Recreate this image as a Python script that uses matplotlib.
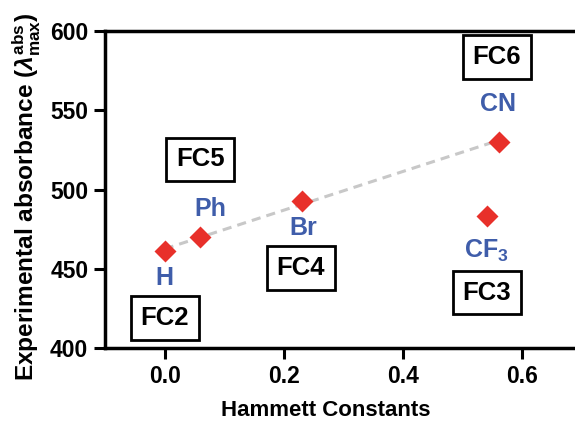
import numpy as np
import matplotlib
matplotlib.use("Agg")
import matplotlib.pyplot as plt

plt.rcParams["font.family"] = ["Liberation Sans", "DejaVu Sans"]
plt.rcParams["font.weight"] = "bold"
plt.rcParams["mathtext.fontset"] = "custom"
plt.rcParams["mathtext.rm"] = "Liberation Sans:bold"
plt.rcParams["mathtext.it"] = "Liberation Sans:italic"
plt.rcParams["mathtext.bf"] = "Liberation Sans:bold"

# data
substituents = ["H", "Ph", "Br", "CF$_3$", "CN"]
hammett = [0.0, 0.06, 0.23, 0.54, 0.56]
absorbance = [461, 470, 493, 483, 530]
in_fit = [True, True, True, False, True]

# label positions (data coords)
sub_label_x = [0.0, 0.077, 0.232, 0.54, 0.559]
sub_label_y = [444, 488, 476, 461, 554]
compounds = ["FC2", "FC5", "FC4", "FC3", "FC6"]
box_x = [0.0, 0.06, 0.228, 0.54, 0.557]
box_y = [419, 519, 450.5, 435, 583.5]

x_ticks = [0.0, 0.2, 0.4, 0.6]
y_ticks = [400, 450, 500, 550, 600]

red = "#E8302A"
blue = "#3F5DAA"
grey = "#C8C8C8"

fig = plt.figure(figsize=(5.75, 4.29), dpi=100)
ax = fig.add_axes([0.1826, 0.1888, 1.0122 - 0.1826, 0.9277 - 0.1888])

# dashed trend line through the fitted points
fx = np.array([h for h, f in zip(hammett, in_fit) if f])
fy = np.array([a for a, f in zip(absorbance, in_fit) if f])
slope, icpt = np.polyfit(fx, fy, 1)
lx = np.array([fx.min(), fx.max()])
ax.plot(lx, slope * lx + icpt, color=grey, lw=2.2, ls=(0, (3, 2)), zorder=1)

ax.plot(hammett, absorbance, "D", color=red, ms=11, mec="none", zorder=3)

for name, x, y in zip(substituents, sub_label_x, sub_label_y):
    ax.text(x, y, name, color=blue, fontsize=18, fontweight="bold",
            ha="center", va="center")

for name, x, y in zip(compounds, box_x, box_y):
    ax.text(x, y, name, color="black", fontsize=18.5, fontweight="bold",
            ha="center", va="center",
            bbox=dict(boxstyle="square,pad=0.38", fc="white", ec="black", lw=2))

ax.set_xlim(-0.1, 0.7)
ax.set_ylim(400, 600)
ax.set_xticks(x_ticks)
ax.set_xticklabels([f"{t:.1f}" for t in x_ticks])
ax.set_yticks(y_ticks)
ax.tick_params(width=2.2, length=8, labelsize=16.5, direction="out", pad=4)
for lbl in ax.get_xticklabels() + ax.get_yticklabels():
    lbl.set_fontweight("bold")

for s in ["left", "bottom", "top"]:
    ax.spines[s].set_linewidth(2.5)
ax.spines["right"].set_visible(False)

ax.set_xlabel("Hammett Constants", fontsize=16, fontweight="bold")
ax.xaxis.set_label_coords(0.463, -0.165)
ax.set_ylabel(r"Experimental absorbance ($\lambda^{\rm abs}_{\rm max}$)",
              fontsize=17.6, fontweight="bold")
ax.yaxis.set_label_coords(-0.129, 0.478)

fig.savefig("out.png", dpi=100)
